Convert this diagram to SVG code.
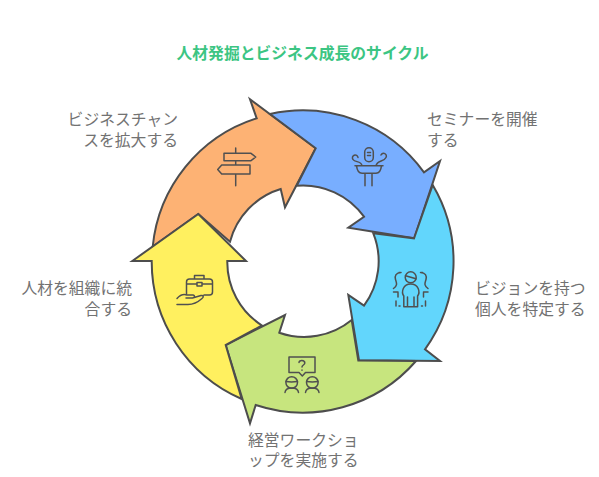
<svg xmlns="http://www.w3.org/2000/svg" width="599" height="477" viewBox="0 0 599 477">
<style>
text{font-family:"Noto Sans CJK JP","Noto Sans",sans-serif;font-size:15.8px;fill:#727272}
.title{font-size:15.8px;font-weight:700;fill:#3CC583}
.end{text-anchor:end}
.seg{stroke:#4D4D4D;stroke-width:2;stroke-linejoin:miter}
.ic{fill:none;stroke:#505050;stroke-width:1.5;stroke-linecap:round;stroke-linejoin:round}
</style>
<rect width="599" height="477" fill="#fff"/>
<text class="title" x="302.500" y="58.500" text-anchor="middle">人材発掘とビジネス成長のサイクル</text>
<g id="node-chance">
<path class="seg" fill="#FDB274" d="M152.700,246.700A150 150 0 0 1 256.700,118.300L250,99.300L315.700,148.300L285,207.300L280.700,189A75 75 0 0 0 230,241.700L198.300,214Z"/>
<path class="ic" d="M235.700,148V153.300M235.700,160.700V165M235.700,174V185.700M224,153.300H251L255.700,157L251,160.700H224ZM250,165H221.700L217.700,169.500L221.700,174H250Z"/>
<text class="end" x="178" y="125">ビジネスチャン</text>
<text class="end" x="178" y="145.500">スを拡大する</text>
</g>
<g id="node-seminar">
<path class="seg" fill="#78AEFF" d="M270,114A150 150 0 0 1 424,172.300L440,161L414.300,238.300L348.300,227.700L364,216.700A75 75 0 0 0 296.700,185.700L315.700,148.300Z"/>
<path class="ic" d="M364.700,152A4.300 4.300 0 0 1 373.300,152V157.500A4.300 4.300 0 0 1 364.700,157.500ZM367.500,152.500H370.500M367.500,155.500H370.500M355,165.700H383M356.500,165.700C357,170 359,173.300 362,173.300H376C379,173.300 381,170 381.500,165.700M365,173.300V185.700M372,173.300V185.700M362,165.700C361,160 355,163 353,159.500A2.800 2.800 0 1 1 358,157.500M376,165.700C377,160 384,162 386,157.500A2.800 2.800 0 1 0 381,155"/>
<text x="427" y="125">セミナーを開催</text>
<text x="427" y="145.500">する</text>
</g>
<g id="node-vision">
<path class="seg" fill="#62D6FC" d="M432.700,185A150 150 0 0 1 425,349.300L440,361L359,360.300L348.300,295L364,305.700A75 75 0 0 0 373.300,233.300L414,238.300Z"/>
<g class="ic">
<circle cx="410.700" cy="277.300" r="5.500"/>
<path d="M405.500,275.800L416,278.800M403.800,306.700V296C401,292 403,284 410.700,284C418.500,284 420.500,292 417.600,296V306.700ZM407.500,297V306.700M414,297V306.700"/>
<path d="M401,272.500C396,272.500 394.500,276 395.500,279.500C396.500,283 398,285 393.500,288.500M399,272.500H400M420.500,272.500C425.500,272.500 427,276 426,279.500C425,283 423.500,285 428,288.500M421.500,272.500H422.500M393.500,292H398M398,292.500V297M396,301V306M399,306H400M428,292H423.500M423.500,292.500V297M425.500,301V306M421.500,306H422.500"/>
</g>
<text x="475" y="294">ビジョンを持つ</text>
<text x="475" y="314.500">個人を特定する</text>
</g>
<g id="node-workshop">
<path class="seg" fill="#C7E57E" d="M225.700,345L285,315L279.300,332.700A75 75 0 0 0 351.700,320L358.300,360.500L416,361A150 150 0 0 1 255.700,405L250,423.300Z"/>
<path class="ic" d="M289,357H315V372.500H305.500L302.300,376L299,372.500H289ZM299,362.500C299,359.800 304.800,359.800 304.800,363C304.800,365 302,365 302,367M302,370V370.300"/>
<g class="ic">
<circle cx="291.700" cy="382.500" r="5.800"/><path d="M286,381.500C289,382 294,382 297.500,381.500M285,392.500C285.500,386.500 298,386.500 298.500,392.500"/>
<circle cx="312.300" cy="382.500" r="5.800"/><path d="M306.600,381.500C309.500,382 315,382 318,381.500M305.500,392.500C306,386.500 318.500,386.500 319,392.500"/>
</g>
<text x="248" y="445.500">経営ワークショ</text>
<text x="248" y="465.500">ップを実施する</text>
</g>
<g id="node-talent">
<path class="seg" fill="#FFF05F" d="M132.300,261L198.300,214L246,261L227.300,261A75 75 0 0 0 262,325.500L225.700,345L241.700,399A150 150 0 0 1 151.700,261Z"/>
<path class="ic" d="M186.500,294V282A3 3 0 0 1 189.500,279H209.500A3 3 0 0 1 212.500,282V292A3 3 0 0 1 209.500,295H204M194.500,279V275.500H204V279M186.500,284H197M202,284H212.500M197,282.500H202V286H197ZM177,298.500C180,295 184,294 187,295H193C195,295 195,298 192.500,298M192.500,298H186M192.500,298L201,295.500C203.500,295 204,297 202,298.500C197,303 193,304.500 188,304.500H177"/>
<text class="end" x="132" y="294">人材を組織に統</text>
<text class="end" x="132" y="314.500">合する</text>
</g>
</svg>
